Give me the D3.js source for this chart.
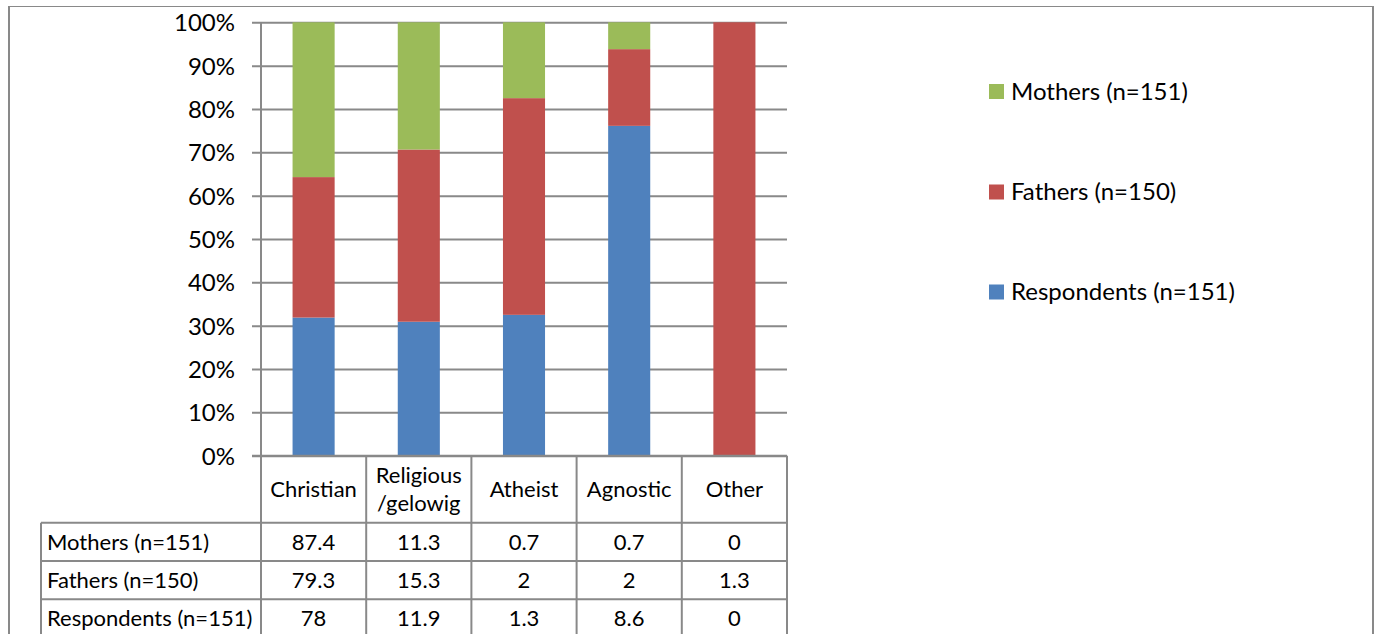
<!DOCTYPE html>
<html>
<head>
<meta charset="utf-8">
<script src="https://cdn.jsdelivr.net/npm/d3@7"></script>
<style>
  body { margin: 0; background: #fff; }
  svg { display: block; font-family: Lato, "Open Sans", sans-serif; }
  .grid line, .tbl line { stroke: #898989; stroke-width: 2; }
</style>
</head>
<body>
<svg id="chart"></svg>
<script>
let width = 1379,
    height = 634;

// data
let categories = ["Christian", "Religious\n/gelowig", "Atheist", "Agnostic", "Other"];
let seriesNames = ["Mothers (n=151)", "Fathers (n=150)", "Respondents (n=151)"];
let mothers = [87.4, 11.3, 0.7, 0.7, 0];
let fathers = [79.3, 15.3, 2, 2, 1.3];
let respondents = [78, 11.9, 1.3, 8.6, 0];
let yTicks = [0, 0.1, 0.2, 0.3, 0.4, 0.5, 0.6, 0.7, 0.8, 0.9, 1];

let colors = {
    "Mothers (n=151)": "#9bbb59",
    "Fathers (n=150)": "#c0504d",
    "Respondents (n=151)": "#4f81bd"
};

let rows = categories.map((c, i) => ({
    cat: c,
    "Mothers (n=151)": mothers[i],
    "Fathers (n=150)": fathers[i],
    "Respondents (n=151)": respondents[i]
}));

let svg = d3.select("svg#chart")
    .attr("width", width)
    .attr("height", height);

// outer frame
svg.append("line").attr("x1", 8).attr("x2", 1374).attr("y1", 6.5).attr("y2", 6.5)
    .attr("stroke", "#898989").attr("stroke-width", 1);
svg.append("line").attr("x1", 9).attr("x2", 9).attr("y1", 6).attr("y2", height)
    .attr("stroke", "#898989").attr("stroke-width", 2);
svg.append("line").attr("x1", 1373).attr("x2", 1373).attr("y1", 6).attr("y2", height)
    .attr("stroke", "#898989").attr("stroke-width", 2);

let plotLeft = 261, plotRight = 787, plotTop = 22.3, plotBottom = 455.7;

let x = d3.scaleBand().domain(categories).range([plotLeft, plotRight]).paddingInner(0).paddingOuter(0);
let y = d3.scaleLinear().domain([0, 1]).range([plotBottom, plotTop]);

// gridlines + y labels
let yAxis = svg.append("g")
    .attr("class", "grid")
    .attr("transform", `translate(${plotLeft},0)`)
    .call(d3.axisLeft(y).tickValues(yTicks).tickFormat(d3.format(".0%")).tickSize(-(plotRight - plotLeft)).tickPadding(0));
yAxis.select(".domain").remove();
yAxis.selectAll(".tick line").attr("x1", -9).attr("x2", plotRight - plotLeft);
yAxis.selectAll(".tick text")
    .attr("x", -26)
    .attr("dy", "0.35em")
    .attr("fill", "#000")
    .style("font-size", "24px")
    .style("font-family", "Lato, sans-serif");
yAxis.append("line").attr("x1", 0).attr("x2", 0).attr("y1", plotTop).attr("y2", plotBottom);

// stacked bars (100%)
let stackKeys = ["Respondents (n=151)", "Fathers (n=150)", "Mothers (n=151)"];
let stacked = d3.stack().keys(stackKeys).offset(d3.stackOffsetExpand)(rows);
let barW = x.bandwidth() * 0.4;

svg.append("g")
    .selectAll("g")
    .data(stacked)
    .join("g")
    .attr("fill", d => colors[d.key])
    .selectAll("rect")
    .data(d => d)
    .join("rect")
    .attr("x", d => x(d.data.cat) + (x.bandwidth() - barW) / 2)
    .attr("width", barW)
    .attr("y", d => y(d[1]))
    .attr("height", d => y(d[0]) - y(d[1]));

// data table
let tbl = svg.append("g").attr("class", "tbl");
let headTop = plotBottom, headBot = 522.7, rowH = 38.3, tblLeft = 41;
let tableRows = [
    {name: seriesNames[0], vals: mothers},
    {name: seriesNames[1], vals: fathers},
    {name: seriesNames[2], vals: respondents}
];
let tblBottom = headBot + rowH * tableRows.length;

// vertical lines
let colEdges = categories.map(c => x(c)).concat([plotRight]);
tbl.selectAll("line.v")
    .data(colEdges)
    .join("line")
    .attr("class", "v")
    .attr("x1", d => d).attr("x2", d => d)
    .attr("y1", headTop).attr("y2", tblBottom);
tbl.append("line").attr("x1", tblLeft).attr("x2", tblLeft).attr("y1", headBot).attr("y2", tblBottom);
tbl.append("line").attr("x1", plotLeft - 9).attr("x2", plotRight).attr("y1", headTop).attr("y2", headTop);
tbl.selectAll("line.h")
    .data(d3.range(tableRows.length + 1))
    .join("line")
    .attr("class", "h")
    .attr("x1", tblLeft).attr("x2", plotRight)
    .attr("y1", i => headBot + i * rowH).attr("y2", i => headBot + i * rowH);

// header labels
categories.forEach(c => {
    let lines = c.split("\n");
    let cy = (headTop + headBot) / 2;
    let t = tbl.append("text")
        .attr("text-anchor", "middle")
        .style("font-size", "22px");
    lines.forEach((ln, j) => {
        t.append("tspan")
            .attr("x", x(c) + x.bandwidth() / 2)
            .attr("y", cy + (j - (lines.length - 1) / 2) * 28)
            .attr("dy", "0.35em")
            .text(ln);
    });
});

// rows
tableRows.forEach((r, i) => {
    let cy = headBot + i * rowH + rowH / 2;
    tbl.append("text")
        .attr("x", tblLeft + 6)
        .attr("y", cy)
        .attr("dy", "0.35em")
        .style("font-size", "22px")
        .text(r.name);
    r.vals.forEach((v, j) => {
        tbl.append("text")
            .attr("x", x(categories[j]) + x.bandwidth() / 2)
            .attr("y", cy)
            .attr("dy", "0.35em")
            .attr("text-anchor", "middle")
            .style("font-size", "22px")
            .text(v);
    });
});

// legend
let legendY = [91.5, 192, 292];
let legend = svg.append("g")
    .selectAll("g")
    .data(seriesNames)
    .join("g")
    .attr("transform", (d, i) => `translate(989,${legendY[i]})`);
legend.append("rect")
    .attr("x", 0).attr("y", -7.5)
    .attr("width", 15).attr("height", 15)
    .attr("fill", d => colors[d]);
legend.append("text")
    .attr("x", 22)
    .attr("dy", "0.35em")
    .style("font-size", "24px")
    .text(d => d);
</script>
</body>
</html>
